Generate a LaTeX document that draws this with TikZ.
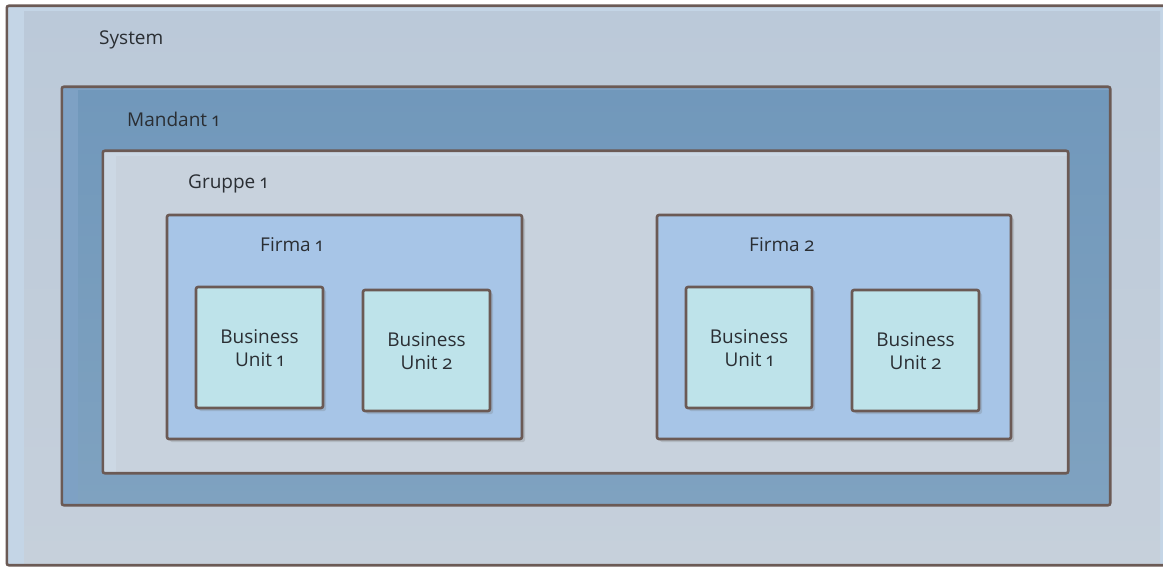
\documentclass[tikz,border=0pt]{standalone}
\usepackage{fontspec}
\setmainfont[Numbers=OldStyle]{Open Sans}
\usetikzlibrary{fit,shadows}
\definecolor{edge}{HTML}{6B5A55}
\definecolor{txt}{HTML}{2A2E33}
\definecolor{sysband}{HTML}{C4D5E6}
\definecolor{sysfill}{HTML}{BBC9D9}
\definecolor{sysfilllow}{HTML}{C6D0DB}
\definecolor{manband}{HTML}{7EA1C4}
\definecolor{manfill}{HTML}{7198BB}
\definecolor{manfilllow}{HTML}{7FA2C0}
\definecolor{grpband}{HTML}{CCD8E4}
\definecolor{grpfill}{HTML}{C8D2DD}
\definecolor{firmfill}{HTML}{A7C5E7}
\definecolor{bufill}{HTML}{BEE3EA}
\tikzset{
  x=1pt, y=-1pt,
  frame/.style={draw=edge, line width=2.6pt, rounded corners=2pt, inner sep=0pt},
  outline/.style={draw=edge, line width=2.6pt, rounded corners=2pt},
  shade box/.style={frame, drop shadow={shadow xshift=3pt, shadow yshift=-3pt, opacity=0.22, fill=black!60}},
  lbl/.style={text=txt, font=\fontsize{19}{23}\selectfont, inner sep=0pt},
  bulbl/.style={lbl, align=center},
}
\begin{document}
\begin{tikzpicture}
\useasboundingbox (0,0) rectangle (1163,567);
\begin{scope}
\clip (0,0) rectangle (1163,567);
\fill[white] (0,0) rectangle (1163,567);

% System: lighter band along the left and top, darker body; runs past the right edge
\node[fill=sysband, rounded corners=2pt, inner sep=0pt, fit={(7,6) (1172,565)}] (system) {};
\shade[top color=sysfill, bottom color=sysfilllow] (24,12) rectangle (1160,565);
\draw[outline] (system.north west) rectangle (system.south east);
\node[lbl, anchor=west] (systemlbl) at (99,40) {System};

% Mandant
\node[fill=manband, inner sep=0pt, fit={(62,87) (1110,505)}] (mandant) {};
\shade[top color=manfill, bottom color=manfilllow] (78,91) rectangle (1110,505);
\draw[outline] (mandant.north west) rectangle (mandant.south east);
\node[lbl, anchor=west] (mandantlbl) at (127,119) {Mandant 1};

% Gruppe
\node[fill=grpband, inner sep=0pt, fit={(103,151) (1068,473)}] (gruppe) {};
\fill[grpfill] (116,156) rectangle (1068,473);
\draw[outline] (gruppe.north west) rectangle (gruppe.south east);
\node[lbl, anchor=west] (gruppelbl) at (188,184) {Gruppe 1};

% Firma 1
\node[shade box, fill=firmfill, fit={(167,215) (522,439)}] (firma1) {};
\node[lbl, anchor=west] (firma1lbl) at (260,245) {Firma 1};
\node[shade box, fill=bufill, fit={(196,287) (323,408)}] (f1bu1) {};
\node[bulbl] at ([yshift=-1pt]f1bu1.center) {Business\\Unit 1};
\node[shade box, fill=bufill, fit={(363,290) (490,411)}] (f1bu2) {};
\node[bulbl] at ([yshift=-1pt]f1bu2.center) {Business\\Unit 2};

% Firma 2
\node[shade box, fill=firmfill, fit={(657,215) (1011,439)}] (firma2) {};
\node[lbl, anchor=west] (firma2lbl) at (749,245) {Firma 2};
\node[shade box, fill=bufill, fit={(686,287) (812,408)}] (f2bu1) {};
\node[bulbl] at ([yshift=-1pt]f2bu1.center) {Business\\Unit 1};
\node[shade box, fill=bufill, fit={(852,290) (979,411)}] (f2bu2) {};
\node[bulbl] at ([yshift=-1pt]f2bu2.center) {Business\\Unit 2};
\end{scope}
\end{tikzpicture}
\end{document}
